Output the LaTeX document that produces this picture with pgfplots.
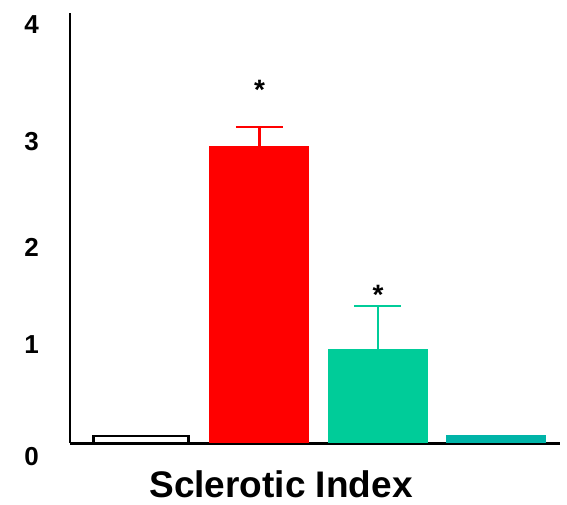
\documentclass[border=0pt]{standalone}
\usepackage{fontspec}
\setmainfont{Liberation Sans}
\usepackage{pgfplots}
\pgfplotsset{compat=1.18}
\definecolor{cred}{HTML}{FF0000}
\definecolor{cgreen}{HTML}{00CC99}
\definecolor{cteal}{HTML}{00B4A8}
\begin{document}
\begin{tikzpicture}
\path[use as bounding box] (-70pt,-61pt) rectangle (497pt,443pt);
\begin{axis}[
  at={(0pt,0pt)}, anchor=south west,
  scale only axis, width=490pt, height=430pt,
  xmin=-0.599, xmax=3.536, ymin=0, ymax=4,
  axis x line=bottom, axis y line=left,
  axis line style={-},
  x axis line style={line width=3pt},
  y axis line style={line width=2.4pt},
  xtick=\empty,
  ytick={0.92,1.82,2.80,3.89}, yticklabels={1,2,3,4},
  extra y ticks={0}, extra y tick labels={0},
  extra y tick style={yticklabel style={yshift=-14pt}},
  major tick length=0pt,
  /pgf/number format/assume math mode=true,
  yticklabel style={font=\fontsize{26}{30}\selectfont\bfseries, inner sep=0pt, anchor=east, xshift=-31pt},
  ybar, bar width=0.844, bar shift=0pt,
  clip=false,
]
\addplot[draw=black, fill=white, line width=2.4pt, bar width=0.80] coordinates {(0,0.065)};
\addplot[draw=none, fill=cred,
  error bars/.cd, y dir=plus, y explicit,
  error bar style={line width=2.8pt, color=cred},
  error mark options={rotate=90, line width=2.6pt, color=cred, mark size=23.5pt}]
  coordinates {(1,2.76) +- (0,0.18)};
\addplot[draw=none, fill=cgreen,
  error bars/.cd, y dir=plus, y explicit,
  error bar style={line width=2.8pt, color=cgreen},
  error mark options={rotate=90, line width=2.6pt, color=cgreen, mark size=23.5pt}]
  coordinates {(2,0.875) +- (0,0.40)};
\addplot[draw=none, fill=cteal] coordinates {(3,0.075)};
\node[anchor=base, font=\fontsize{28}{32}\selectfont\bfseries] at (axis cs:1,3.20) {*};
\node[anchor=base, font=\fontsize{28}{32}\selectfont\bfseries] at (axis cs:2,1.29) {*};
\end{axis}
\node[anchor=base, font=\fontsize{37}{42}\selectfont\bfseries] at (211pt,-54pt) {Sclerotic Index};
\end{tikzpicture}
\end{document}
